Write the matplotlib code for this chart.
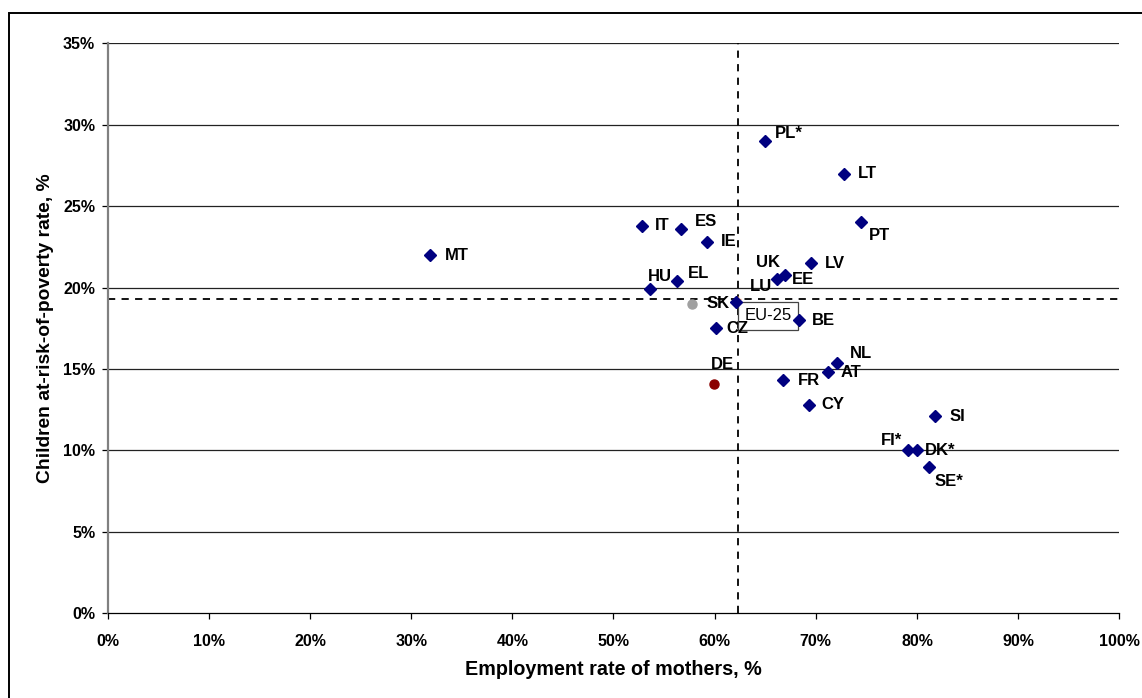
import matplotlib
matplotlib.use('Agg')
import matplotlib.pyplot as plt
from matplotlib.patches import Rectangle
from matplotlib.ticker import PercentFormatter

# employment rate of mothers (%) and children at-risk-of-poverty rate (%)
countries = ['MT', 'IT', 'ES', 'IE', 'HU', 'EL', 'LU', 'UK', 'EE', 'LV', 'PL*', 'LT',
             'PT', 'CZ', 'BE', 'NL', 'AT', 'FR', 'CY', 'SI', 'FI*', 'DK*', 'SE*']
employment = [31.9, 52.8, 56.7, 59.2, 53.6, 56.3, 62.1, 66.2, 67.0, 69.5, 65.0, 72.8,
              74.5, 60.1, 68.3, 72.1, 71.2, 66.8, 69.3, 81.8, 79.1, 80.0, 81.2]
poverty = [22.0, 23.8, 23.6, 22.8, 19.9, 20.4, 19.1, 20.5, 20.8, 21.5, 29.0, 27.0,
           24.0, 17.5, 18.0, 15.4, 14.8, 14.3, 12.8, 12.1, 10.0, 10.0, 9.0]

sk_point = (57.8, 19.0)
de_point = (59.9, 14.1)
eu25 = (62.3, 19.3)

x_ticks = list(range(0, 101, 10))
y_ticks = list(range(0, 36, 5))

# label placement in pixels relative to the marker: (dx, dy, ha)
label_offsets = {
    'PL*': (10, 7, 'left'), 'LT': (14, 0, 'left'), 'IT': (13, 0, 'left'),
    'ES': (14, 7, 'left'), 'IE': (14, 0, 'left'), 'PT': (8, -13, 'left'),
    'UK': (-21, 17, 'left'), 'LV': (14, 0, 'left'), 'EE': (6, -5, 'left'),
    'HU': (-2, 13, 'left'), 'EL': (11, 8, 'left'), 'LU': (14, 16, 'left'),
    'CZ': (11, 0, 'left'), 'BE': (13, 0, 'left'), 'NL': (13, 9, 'left'),
    'AT': (13, 0, 'left'), 'FR': (14, 0, 'left'), 'CY': (13, 0, 'left'),
    'SI': (14, 0, 'left'), 'FI*': (-6, 10, 'right'), 'DK*': (8, 0, 'left'),
    'SE*': (5, -15, 'left'), 'MT': (14, 0, 'left'),
}

plt.rcParams['font.family'] = ['Liberation Sans', 'DejaVu Sans']

fig = plt.figure(figsize=(11.42, 6.98), dpi=100)
ax = fig.add_axes([0.0943, 0.1213, 0.8858, 0.8167])

# outer frame, cut off at right and bottom like the original
fig.patches.append(Rectangle((0.0083, -0.05), 1.2, 0.9814 + 0.05, transform=fig.transFigure,
                             fill=False, ec='black', lw=1.4))

ax.set_xlim(0, 100)
ax.set_ylim(0, 35)
ax.set_xticks(x_ticks)
ax.set_yticks(y_ticks)
ax.xaxis.set_major_formatter(PercentFormatter(decimals=0))
ax.yaxis.set_major_formatter(PercentFormatter(decimals=0))
for y in y_ticks[1:]:
    ax.axhline(y, color='#222222', lw=0.9, zorder=1)

for side in ['top', 'right']:
    ax.spines[side].set_visible(False)
ax.spines['left'].set_color('#808080')
ax.spines['left'].set_linewidth(1.6)
ax.spines['bottom'].set_color('black')
ax.spines['bottom'].set_linewidth(0.9)

ax.tick_params(axis='both', direction='out', length=4, width=0.9, color='black',
               labelsize=11.5)
ax.tick_params(axis='x', pad=11)
ax.tick_params(axis='y', pad=5)
for lbl in ax.get_xticklabels() + ax.get_yticklabels():
    lbl.set_fontweight('bold')

# EU-25 averages
ax.axvline(eu25[0], color='black', lw=1.3, ls=(0, (4, 3.5)), zorder=2)
ax.axhline(eu25[1], color='black', lw=1.3, ls=(0, (4, 3.5)), zorder=2)
ax.plot(*eu25, marker='+', color='#F4A460', ms=5, zorder=3)
ax.annotate('EU-25', eu25, xytext=(30, -17), textcoords='offset pixels',
            ha='center', va='center', fontsize=12,
            bbox=dict(boxstyle='square,pad=0.38', fc='white', ec='#444444', lw=0.9))

ax.plot(employment, poverty, ls='none', marker='D', ms=5.8, color='#000080', zorder=4)
ax.plot(*sk_point, marker='o', ms=6.5, color='#A0A0A0', zorder=4)
ax.plot(*de_point, marker='o', ms=6.5, color='#8B0000', zorder=4)

for name, x, y in zip(countries, employment, poverty):
    dx, dy, ha = label_offsets[name]
    ax.annotate(name, (x, y), xytext=(dx, dy), textcoords='offset pixels',
                ha=ha, va='center', fontsize=12, fontweight='bold', zorder=5)
ax.annotate('SK', sk_point, xytext=(14, 0), textcoords='offset pixels',
            ha='left', va='center', fontsize=12, fontweight='bold', zorder=5)
ax.annotate('DE', de_point, xytext=(9, 19), textcoords='offset pixels',
            ha='center', va='center', fontsize=12, fontweight='bold', zorder=5)

ax.set_xlabel('Employment rate of mothers, %', fontsize=14.2, fontweight='bold')
ax.set_ylabel('Children at-risk-of-poverty rate, %', fontsize=13.9, fontweight='bold')
ax.xaxis.set_label_coords(0.5, -0.082)
ax.yaxis.set_label_coords(-0.053, 0.5)

fig.savefig('out.png', dpi=100)
